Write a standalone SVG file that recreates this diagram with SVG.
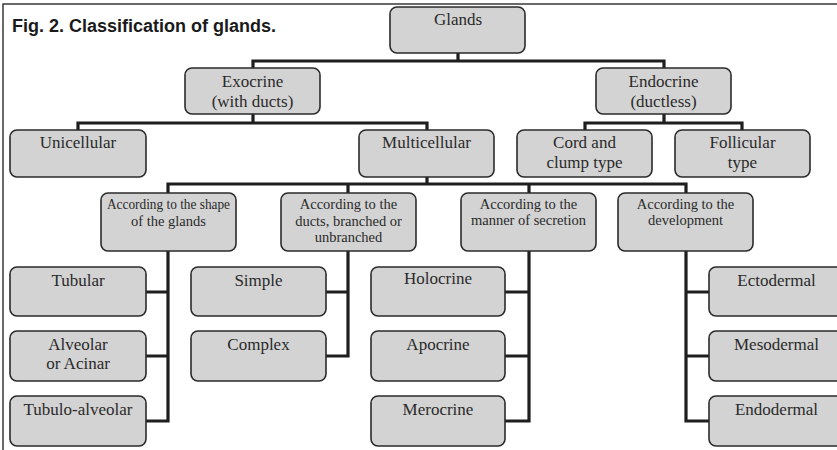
<svg xmlns="http://www.w3.org/2000/svg" width="837" height="450" viewBox="0 0 837 450">
<style>
.box{fill:#d3d3d3;stroke:#2b2b2b;stroke-width:1.6}
.t{font-family:"Liberation Serif","Times New Roman",serif;font-size:17px;fill:#2a2a2a;text-anchor:middle}
.s{font-family:"Liberation Serif","Times New Roman",serif;font-size:14.5px;fill:#2a2a2a;text-anchor:middle}
.c{fill:none;stroke:#1e1e1e;stroke-width:3.2}
</style>
<rect x="0" y="0" width="837" height="450" fill="#ffffff"/>
<rect x="3" y="4" width="850" height="460" fill="none" stroke="#2b2b2b" stroke-width="1.4"/>
<text x="12" y="32" font-family="'Liberation Sans',Arial,sans-serif" font-size="18" font-weight="bold" fill="#1a1a1a">Fig. 2. Classification of glands.</text>
<g id="connectors">
<path class="c" d="M458 53V61M253 68V61H664V68"/>
<path class="c" d="M253 114V123M78 130V123H427V130"/>
<path class="c" d="M664 114V123M585 130V123H742V130"/>
<path class="c" d="M427 177V184M168 193V184H686V193M348 184V193M529 184V193"/>
<path class="c" d="M168 251V421H146M146 292H168M146 356H168"/>
<path class="c" d="M348 251V356H326M326 292H348"/>
<path class="c" d="M529 251V421H505M505 292H529M505 356H529"/>
<path class="c" d="M686 251V421H709M686 292H709M686 356H709"/>
</g>
<g id="glands"><rect class="box" x="390" y="7" width="135" height="46" rx="7"/><text class="t" x="458" y="25">Glands</text></g>
<g id="exocrine"><rect class="box" x="185" y="68" width="135" height="46" rx="7"/><text class="t" x="252.5" y="87">Exocrine</text><text class="t" x="252.5" y="107">(with ducts)</text></g>
<g id="endocrine"><rect class="box" x="596" y="68" width="135" height="46" rx="7"/><text class="t" x="663.5" y="87">Endocrine</text><text class="t" x="663.5" y="107">(ductless)</text></g>
<g id="unicellular"><rect class="box" x="10" y="130" width="136" height="47" rx="7"/><text class="t" x="78" y="148">Unicellular</text></g>
<g id="multicellular"><rect class="box" x="359" y="130" width="135" height="47" rx="7"/><text class="t" x="426.5" y="148">Multicellular</text></g>
<g id="cord"><rect class="box" x="517" y="130" width="135" height="47" rx="7"/><text class="t" x="584.5" y="148">Cord and</text><text class="t" x="584.5" y="168">clump type</text></g>
<g id="follicular"><rect class="box" x="675" y="130" width="135" height="47" rx="7"/><text class="t" x="742.5" y="148">Follicular</text><text class="t" x="742.5" y="168">type</text></g>
<g id="shape"><rect class="box" x="101" y="193" width="135" height="58" rx="7"/><text class="s" x="168.5" y="209" textLength="123" lengthAdjust="spacingAndGlyphs">According to the shape</text><text class="s" x="168.5" y="226">of the glands</text></g>
<g id="ducts"><rect class="box" x="281" y="193" width="135" height="58" rx="7"/><text class="s" x="348.5" y="209">According to the</text><text class="s" x="348.5" y="226">ducts, branched or</text><text class="s" x="348.5" y="242">unbranched</text></g>
<g id="secretion"><rect class="box" x="461" y="193" width="135" height="58" rx="7"/><text class="s" x="528.5" y="209">According to the</text><text class="s" x="528.5" y="225">manner of secretion</text></g>
<g id="development"><rect class="box" x="618" y="193" width="135" height="58" rx="7"/><text class="s" x="685.5" y="209">According to the</text><text class="s" x="685.5" y="225">development</text></g>
<g id="tubular"><rect class="box" x="10" y="267" width="136" height="49" rx="7"/><text class="t" x="78" y="286">Tubular</text></g>
<g id="alveolar"><rect class="box" x="10" y="331" width="136" height="50" rx="7"/><text class="t" x="78" y="350">Alveolar</text><text class="t" x="78" y="369">or Acinar</text></g>
<g id="tubuloalveolar"><rect class="box" x="10" y="396" width="136" height="50" rx="7"/><text class="t" x="78" y="415">Tubulo-alveolar</text></g>
<g id="simple"><rect class="box" x="191" y="267" width="135" height="49" rx="7"/><text class="t" x="258.5" y="286">Simple</text></g>
<g id="complex"><rect class="box" x="191" y="331" width="135" height="50" rx="7"/><text class="t" x="258.5" y="350">Complex</text></g>
<g id="holocrine"><rect class="box" x="371" y="267" width="134" height="49" rx="7"/><text class="t" x="438" y="284" font-size="15">Holocrine</text></g>
<g id="apocrine"><rect class="box" x="371" y="331" width="134" height="50" rx="7"/><text class="t" x="438" y="350">Apocrine</text></g>
<g id="merocrine"><rect class="box" x="371" y="396" width="134" height="50" rx="7"/><text class="t" x="438" y="415">Merocrine</text></g>
<g id="ectodermal"><rect class="box" x="709" y="267" width="136" height="49" rx="7"/><text class="t" x="776.5" y="286">Ectodermal</text></g>
<g id="mesodermal"><rect class="box" x="709" y="331" width="136" height="50" rx="7"/><text class="t" x="776.5" y="350">Mesodermal</text></g>
<g id="endodermal"><rect class="box" x="709" y="396" width="136" height="50" rx="7"/><text class="t" x="776.5" y="415">Endodermal</text></g>
</svg>
